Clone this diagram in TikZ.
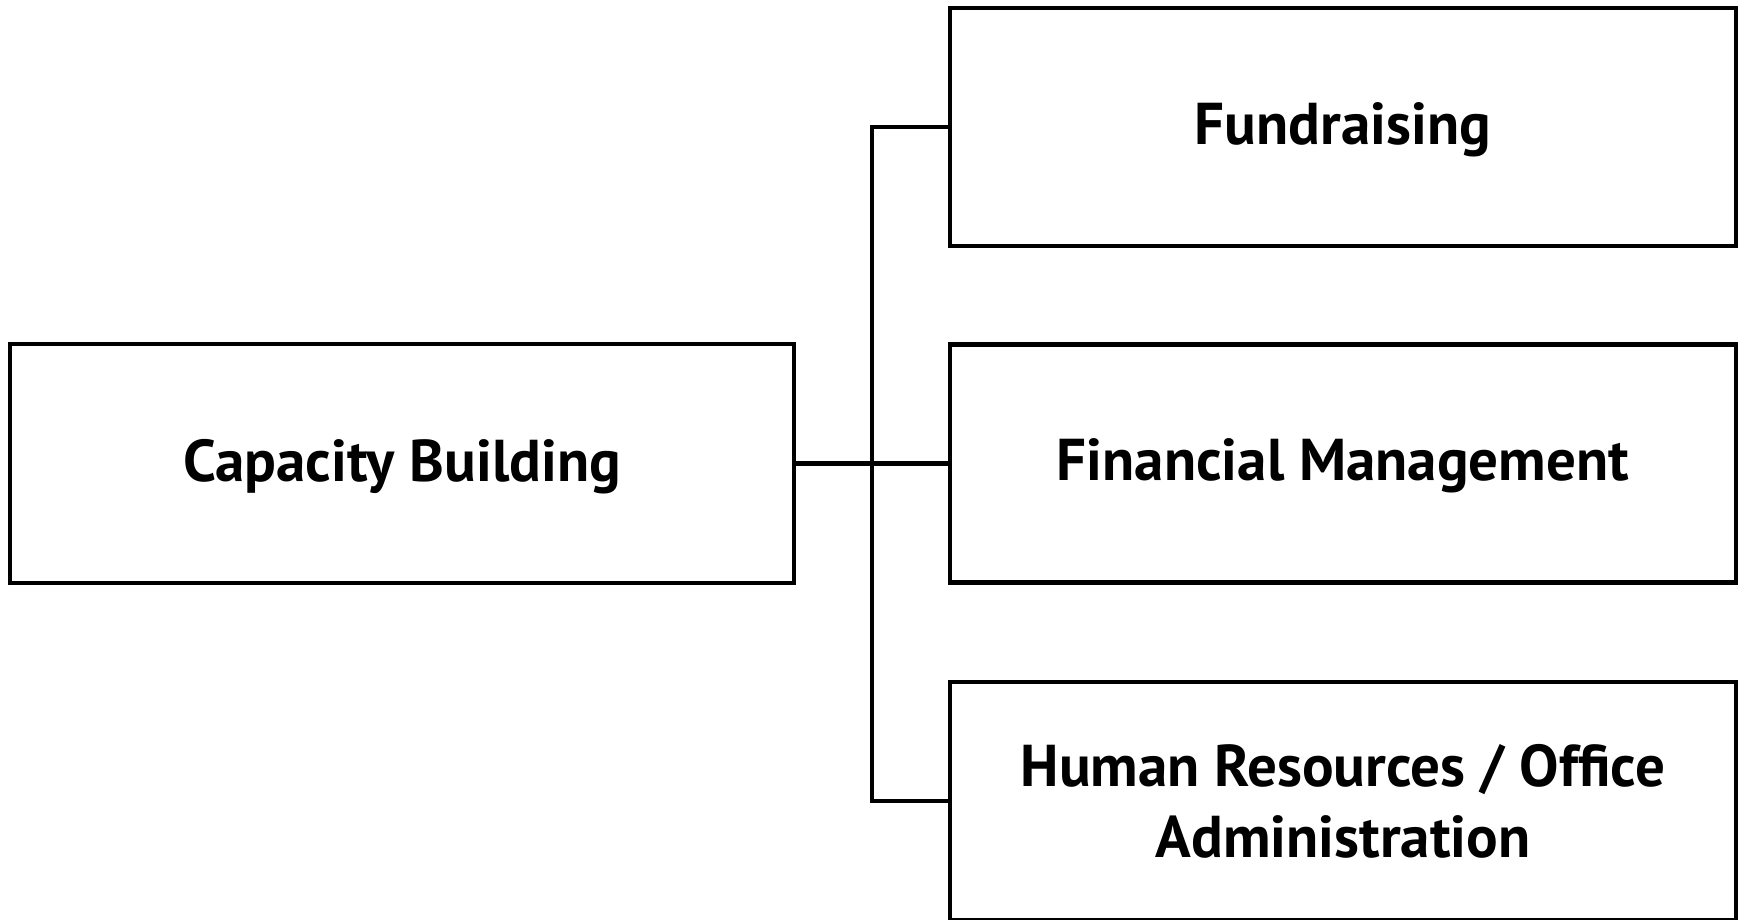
\documentclass[tikz,border=0pt]{standalone}
\usepackage{fontspec}
\setmainfont{PT Sans}
\begin{document}
\begin{tikzpicture}[x=1pt,y=1pt,
  boxstyle/.style={draw=black, line width=2.2pt, rectangle, align=center,
    font=\bfseries\fontsize{29.5}{35.5}\selectfont, inner sep=0pt},
  oneline/.style={text depth=3.5pt},
  leftbox/.style={boxstyle, oneline, minimum width=392pt, minimum height=119.5pt},
  rightbox/.style={boxstyle, minimum width=393pt, minimum height=119pt},
  link/.style={line width=2.2pt}]
\useasboundingbox (0,0) rectangle (873.5,-460);
\node[leftbox] (cap) at (201,-231.75) {Capacity Building};
\node[rightbox, oneline] (fund) at (671.5,-63.5) {Fundraising};
\node[rightbox, oneline] (fin) at (671.5,-231.75) {Financial Management};
\node[rightbox] (hr) at (671.5,-400.5) {Human Resources / Office\\Administration};
\coordinate (j) at (436,-231.75);
\draw[link] (cap.east) -- (fin.west);
\draw[link] (fund.west) -| (j) |- (hr.west);
\end{tikzpicture}
\end{document}
